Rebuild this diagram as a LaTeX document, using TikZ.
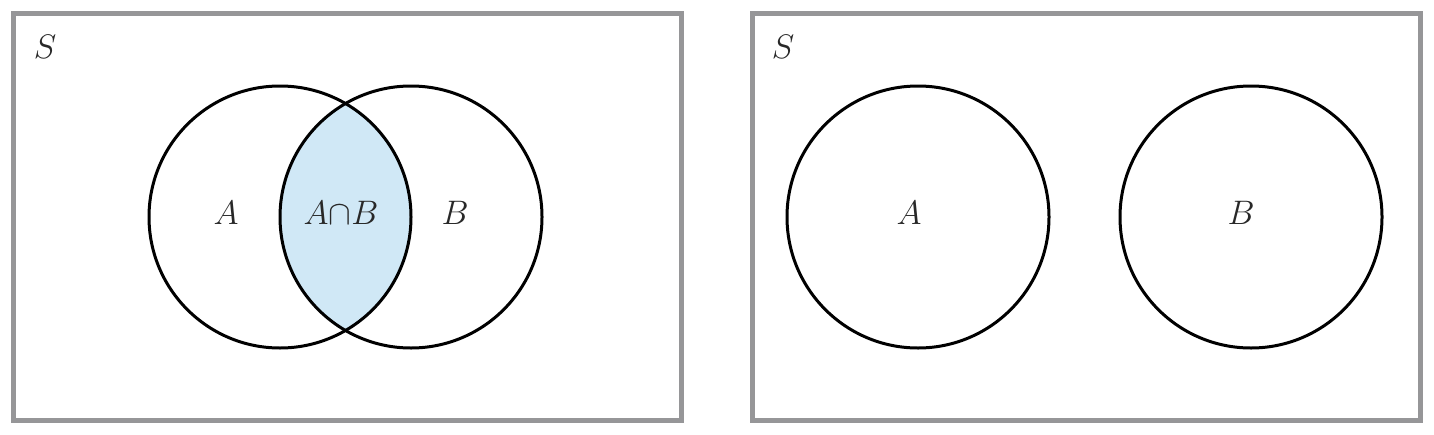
\documentclass[tikz,border=0pt]{standalone}
\usepackage{fix-cm}
\usepackage{tikz}
\definecolor{framegray}{RGB}{150,150,152}
\definecolor{lensblue}{RGB}{208,232,246}
\definecolor{txt}{RGB}{40,40,40}
\tikzset{
  frame/.style={draw=framegray, line width=5pt},
  setcircle/.style={draw=black, line width=3pt, circle, minimum size=262pt, inner sep=0pt},
  lbl/.style={text=txt, font=\fontsize{34}{40}\selectfont, inner sep=0pt}
}
\begin{document}
\begin{tikzpicture}[x=1pt,y=-1pt]
\useasboundingbox (0,0) rectangle (1434,434);
% frames
\draw[frame] (13.5,13.5) rectangle (681.5,420) coordinate (f1);
\draw[frame] (752,13.5) rectangle (1420,420) coordinate (f2);
% left diagram
\coordinate (ca) at (280,217);
\coordinate (cb) at (411,217);
\begin{scope}
  \clip (ca) circle (131);
  \fill[lensblue] (cb) circle (131);
\end{scope}
\node[setcircle] (A1) at (ca) {};
\node[setcircle] (B1) at (cb) {};
\node[lbl] (S1) at (45,47) {$S$};
\node[lbl] (la) at (226,213) {$A$};
\node[lbl] (lab) at (341,213) {$A{\cap}B$};
\node[lbl] (lb) at (455,213) {$B$};
% right diagram
\node[setcircle] (A2) at (918,217) {};
\node[setcircle] (B2) at (1251,217) {};
\node[lbl] (S2) at (783,47) {$S$};
\node[lbl] (ra) at (909,213) {$A$};
\node[lbl] (rb) at (1241,213) {$B$};
\end{tikzpicture}
\end{document}
